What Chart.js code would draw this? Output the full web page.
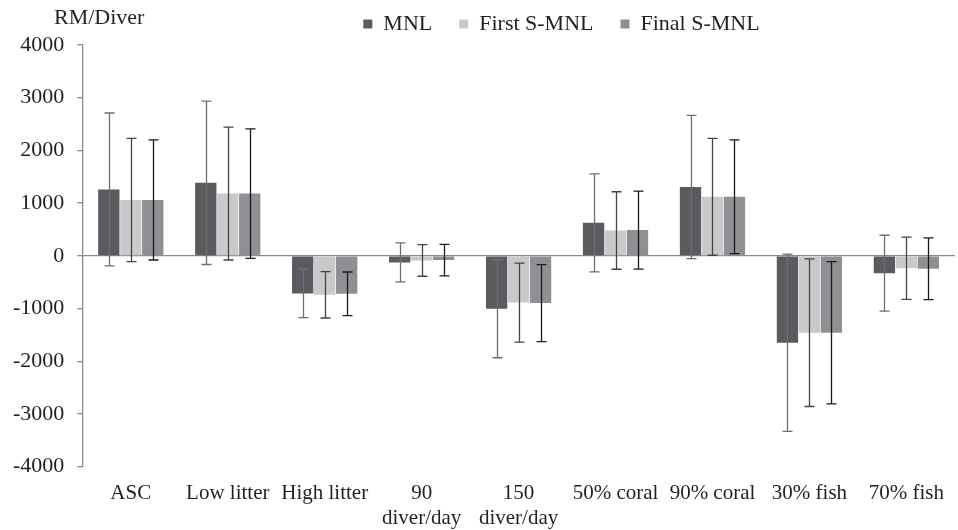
<!DOCTYPE html>
<html>
<head>
<meta charset="utf-8">
<script src="https://cdn.jsdelivr.net/npm/chart.js@4/dist/chart.umd.min.js"></script>
<style>
  html, body { margin: 0; padding: 0; background: #fff; }
  #wrap { width: 958px; height: 530px; }
</style>
</head>
<body>
<div id="wrap"><canvas id="myChart"></canvas></div>
<script>
// categories and values
var categories = ["ASC", "Low litter", "High litter", ["90", "diver/day"], ["150", "diver/day"],
  "50% coral", "90% coral", "30% fish", "70% fish"];
var mnl = [1260, 1385, -715, -125, -1005, 625, 1305, -1650, -330];
var mnlErr = [1450, 1550, 460, 370, 930, 930, 1360, 1680, 720];
var firstSmnl = [1060, 1180, -740, -88, -888, 480, 1120, -1460, -235];
var firstErr = [1170, 1260, 440, 300, 750, 735, 1110, 1400, 590];
var finalSmnl = [1060, 1180, -722, -82, -898, 488, 1120, -1460, -245];
var finalErr = [1140, 1230, 415, 300, 730, 740, 1080, 1350, 585];
var yTicks = [-4000, -3000, -2000, -1000, 0, 1000, 2000, 3000, 4000];

var serif = "'Liberation Serif', 'DejaVu Serif', serif";
var ink = "#231f20";

// error bars, drawn through the y scale
var errorBars = {
  id: "errorBars",
  afterDatasetsDraw(chart) {
    var ctx = chart.ctx;
    var y = chart.scales.y;
    chart.data.datasets.forEach(function (ds, i) {
      var meta = chart.getDatasetMeta(i);
      ctx.save();
      ctx.strokeStyle = ds.errColor;
      ctx.lineWidth = 1.3;
      meta.data.forEach(function (bar, j) {
        var v = ds.data[j], e = ds.err[j];
        var top = y.getPixelForValue(v + e);
        var bot = y.getPixelForValue(v - e);
        var x = Math.round(bar.x) + 0.5;
        ctx.beginPath();
        ctx.moveTo(x, top); ctx.lineTo(x, bot);
        ctx.moveTo(x - 5, top); ctx.lineTo(x + 5, top);
        ctx.moveTo(x - 5, bot); ctx.lineTo(x + 5, bot);
        ctx.stroke();
      });
      ctx.restore();
    });
  }
};

// unit label top-left and legend nudge to the right
var extras = {
  id: "extras",
  afterLayout(chart) {
    chart.legend.left += 80;
    chart.legend.right += 80;
  },
  afterDraw(chart) {
    var ctx = chart.ctx;
    ctx.save();
    ctx.font = "22px " + serif;
    ctx.fillStyle = ink;
    ctx.textBaseline = "middle";
    ctx.fillText("RM/Diver", 54, 18);
    ctx.restore();
  }
};

new Chart("myChart", {
  type: "bar",
  data: {
    labels: categories,
    datasets: [
      { label: "MNL", data: mnl, err: mnlErr, backgroundColor: "#5a5b5f", errColor: "#6e6e6e" },
      { label: "First S-MNL", data: firstSmnl, err: firstErr, backgroundColor: "#c8c9cb", errColor: "#444444" },
      { label: "Final S-MNL", data: finalSmnl, err: finalErr, backgroundColor: "#8f9093", errColor: "#1a1a1a" },
    ],
  },
  options: {
    responsive: true,
    maintainAspectRatio: false,
    animation: false,
    layout: { padding: { top: -14, left: 0, right: -5, bottom: -15 } },
    datasets: { bar: { categoryPercentage: 0.68, barPercentage: 0.97 } },
    plugins: {
      tooltip: { enabled: false },
      legend: {
        position: "top",
        labels: {
          boxWidth: 9,
          boxHeight: 9,
          padding: 27,
          color: ink,
          font: { family: serif, size: 22 },
        },
      },
    },
    scales: {
      x: {
        border: { display: false },
        grid: { display: false, drawTicks: false },
        ticks: { color: ink, font: { family: serif, size: 21 }, padding: 14, maxRotation: 0, autoSkip: false },
      },
      y: {
        min: -4000,
        max: 4000,
        afterBuildTicks(axis) { axis.ticks = yTicks.map(function (v) { return { value: v }; }); },
        border: { color: "#8a8a8a", width: 1.3 },
        grid: {
          color: function (c) { return c.tick && c.tick.value === 0 ? "#8a8a8a" : "rgba(0,0,0,0)"; },
          lineWidth: 1.3,
          tickColor: "#8a8a8a",
          tickLength: 5,
        },
        ticks: {
          color: ink,
          font: { family: serif, size: 22 },
          padding: 13,
          callback: function (v) { return String(v); },
        },
      },
    },
  },
  plugins: [errorBars, extras],
});
</script>
</body>
</html>
